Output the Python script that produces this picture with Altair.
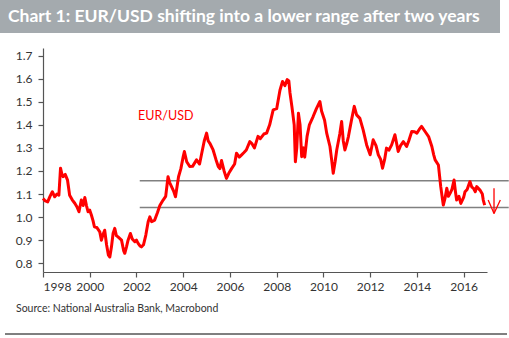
import altair as alt
import pandas as pd

# ---- data ----
years = [1998.00, 1998.10, 1998.20, 1998.30, 1998.40, 1998.50, 1998.60, 1998.68, 1998.75, 1998.80,
         1998.86, 1998.95, 1999.05, 1999.14, 1999.25, 1999.36, 1999.45, 1999.54, 1999.64, 1999.72,
         1999.79, 1999.86, 1999.93, 2000.00, 2000.07, 2000.14, 2000.20, 2000.30, 2000.43, 2000.50,
         2000.57, 2000.64, 2000.72, 2000.80, 2000.86, 2000.93, 2001.00, 2001.07, 2001.14, 2001.21,
         2001.36, 2001.45, 2001.50, 2001.57, 2001.64, 2001.74, 2001.82, 2001.93, 2002.00, 2002.07,
         2002.15, 2002.21, 2002.30, 2002.40, 2002.50, 2002.57, 2002.65, 2002.78, 2002.90, 2003.00,
         2003.14, 2003.25, 2003.35, 2003.42, 2003.50, 2003.60, 2003.67, 2003.80, 2003.90, 2004.00,
         2004.05, 2004.15, 2004.28, 2004.40, 2004.57, 2004.70, 2004.78, 2004.90, 2005.00, 2005.07,
         2005.14, 2005.28, 2005.40, 2005.50, 2005.57, 2005.64, 2005.75, 2005.85, 2005.95, 2006.07,
         2006.20, 2006.28, 2006.40, 2006.50, 2006.60, 2006.70, 2006.85, 2006.93, 2007.05, 2007.20,
         2007.30, 2007.45, 2007.57, 2007.70, 2007.85, 2008.00, 2008.14, 2008.25, 2008.35, 2008.45,
         2008.52, 2008.57, 2008.65, 2008.75, 2008.80, 2008.86, 2008.93, 2009.00, 2009.07, 2009.15,
         2009.20, 2009.30, 2009.40, 2009.56, 2009.70, 2009.85, 2009.92, 2010.05, 2010.14, 2010.28,
         2010.35, 2010.42, 2010.50, 2010.57, 2010.70, 2010.78, 2010.85, 2010.92, 2011.00, 2011.07,
         2011.20, 2011.32, 2011.42, 2011.56, 2011.70, 2011.85, 2012.00, 2012.13, 2012.25, 2012.35,
         2012.45, 2012.53, 2012.62, 2012.70, 2012.80, 2012.92, 2013.06, 2013.20, 2013.30, 2013.42,
         2013.56, 2013.65, 2013.78, 2013.90, 2014.00, 2014.10, 2014.20, 2014.35, 2014.50, 2014.64,
         2014.72, 2014.78, 2014.92, 2015.02, 2015.13, 2015.20, 2015.28, 2015.35, 2015.42, 2015.50,
         2015.59, 2015.65, 2015.70, 2015.80, 2015.88, 2016.00, 2016.06, 2016.15, 2016.27, 2016.35,
         2016.42, 2016.50, 2016.56, 2016.70, 2016.80, 2016.84, 2016.90]
eurusd = [1.081, 1.070, 1.066, 1.090, 1.110, 1.088, 1.100, 1.095, 1.212, 1.190,
          1.175, 1.185, 1.160, 1.095, 1.075, 1.060, 1.045, 1.023, 1.074, 1.050,
          1.085, 1.050, 1.023, 1.030, 1.009, 0.985, 0.958, 0.955, 0.936, 0.900,
          0.925, 0.943, 0.880, 0.835, 0.827, 0.871, 0.930, 0.951, 0.920, 0.914,
          0.900, 0.855, 0.843, 0.870, 0.900, 0.929, 0.905, 0.893, 0.900, 0.886,
          0.875, 0.871, 0.880, 0.922, 0.980, 1.001, 0.980, 0.987, 1.020, 1.050,
          1.074, 1.090, 1.175, 1.150, 1.132, 1.110, 1.088, 1.175, 1.210, 1.262,
          1.284, 1.240, 1.219, 1.220, 1.248, 1.230, 1.270, 1.330, 1.364, 1.330,
          1.320, 1.291, 1.250, 1.219, 1.210, 1.245, 1.200, 1.168, 1.190, 1.210,
          1.230, 1.277, 1.260, 1.270, 1.280, 1.291, 1.327, 1.320, 1.300, 1.350,
          1.340, 1.360, 1.364, 1.400, 1.465, 1.470, 1.550, 1.588, 1.570, 1.596,
          1.590, 1.538, 1.480, 1.400, 1.240, 1.300, 1.450, 1.400, 1.262, 1.300,
          1.260, 1.350, 1.400, 1.436, 1.470, 1.501, 1.460, 1.420, 1.364, 1.306,
          1.250, 1.190, 1.240, 1.291, 1.360, 1.414, 1.330, 1.291, 1.320, 1.349,
          1.420, 1.480, 1.443, 1.428, 1.378, 1.313, 1.270, 1.335, 1.310, 1.270,
          1.250, 1.212, 1.250, 1.299, 1.290, 1.313, 1.357, 1.284, 1.310, 1.327,
          1.306, 1.330, 1.371, 1.370, 1.364, 1.380, 1.393, 1.371, 1.349, 1.306,
          1.270, 1.248, 1.226, 1.132, 1.052, 1.080, 1.125, 1.090, 1.103, 1.120,
          1.161, 1.110, 1.074, 1.090, 1.059, 1.085, 1.110, 1.120, 1.154, 1.130,
          1.125, 1.110, 1.132, 1.117, 1.100, 1.074, 1.052]

range_levels = [1.158, 1.042]
range_start, range_end = 2002.14, 2017.93
x_ticks = [1998, 2000, 2002, 2004, 2006, 2008, 2010, 2012, 2014, 2016]
y_ticks = [0.8, 0.9, 1.0, 1.1, 1.2, 1.3, 1.4, 1.5, 1.6, 1.7]

# arrow annotation (data coordinates)
arrow_x = [2017.30, 2017.05, 2017.57]
arrow_y = [1.125, 1.074, 1.074]
arrow_tip = (2017.30, 1.016)

title = "Chart 1: EUR/USD shifting into a lower range after two years"
source = "Source: National Australia Bank, Macrobond"
series_label = "EUR/USD"

W, H = 444, 224
PAD_L, PAD_T = 43, 48
RED = "#ff0000"
FONT = "Lato"

df = pd.DataFrame({"year": years, "value": eurusd})
lv = pd.DataFrame({"level": range_levels, "x0": range_start, "x1": range_end})
ar = pd.DataFrame({"x": arrow_x, "y": arrow_y, "x2": arrow_tip[0], "y2": arrow_tip[1]})

xs = alt.Scale(domain=[1998, 2017.0], nice=False, zero=False)
ys = alt.Scale(domain=[0.762, 1.733], nice=False, zero=False)

axis_common = dict(grid=False, domainColor="#555", tickColor="#555", tickSize=5,
                   labelFontSize=12, labelColor="#333", labelFont=FONT,
                   domainWidth=1.2, tickWidth=1.2, labelOverlap=False, title=None)
x_axis = alt.Axis(values=x_ticks, format="d", labelPadding=4, **axis_common)
y_axis = alt.Axis(values=y_ticks, format=".1f", labelPadding=6, **axis_common)


def X(field):
    return alt.X(field, scale=xs, axis=x_axis, title=None)


def Y(field):
    return alt.Y(field, scale=ys, axis=y_axis, title=None)


line = alt.Chart(df).mark_line(color=RED, strokeWidth=3, strokeJoin="round").encode(
    x=X("year:Q"), y=Y("value:Q"),
)

levels = alt.Chart(lv).mark_rule(color="#808080", strokeWidth=1.5).encode(
    x=X("x0:Q"), x2="x1:Q", y=Y("level:Q")
)

arrow = alt.Chart(ar).mark_rule(color=RED, strokeWidth=1.3).encode(
    x=X("x:Q"), x2="x2:Q", y=Y("y:Q"), y2="y2:Q"
)

label = alt.Chart(pd.DataFrame({"t": [series_label], "x": [2002.07], "y": [1.44]})).mark_text(
    color=RED, fontSize=12.5, font=FONT, align="left", baseline="middle"
).encode(x=X("x:Q"), y=Y("y:Q"), text="t:N")

bar = alt.Chart(pd.DataFrame({"a": [0]})).mark_rect(color="#a4aaae").encode(
    x=alt.value(-PAD_L), x2=alt.value(500 - PAD_L), y=alt.value(-PAD_T), y2=alt.value(33 - PAD_T)
)
title_txt = alt.Chart(pd.DataFrame({"t": [title]})).mark_text(
    color="white", fontSize=17.5, font=FONT, fontWeight="bold", align="left", baseline="middle"
).encode(x=alt.value(8 - PAD_L), y=alt.value(17 - PAD_T), text="t:N")

source_txt = alt.Chart(pd.DataFrame({"t": [source]})).mark_text(
    color="#333", fontSize=10.5, font=FONT, align="left", baseline="middle"
).encode(x=alt.value(16 - PAD_L), y=alt.value(309 - PAD_T), text="t:N")

bottom_rule = alt.Chart(pd.DataFrame({"a": [0]})).mark_rule(color="#000", strokeWidth=1).encode(
    x=alt.value(5 - PAD_L), x2=alt.value(507 - PAD_L), y=alt.value(334 - PAD_T)
)

chart = alt.layer(bar, title_txt, levels, line, arrow, label, source_txt, bottom_rule).properties(
    width=W, height=H,
    autosize=alt.AutoSizeParams(type="none"),
    padding={"left": PAD_L, "top": PAD_T, "right": 509 - PAD_L - W, "bottom": 338 - PAD_T - H},
    background="white",
).configure_view(stroke=None)

chart.save("out.html", embed_options={"renderer": "svg", "actions": False})
